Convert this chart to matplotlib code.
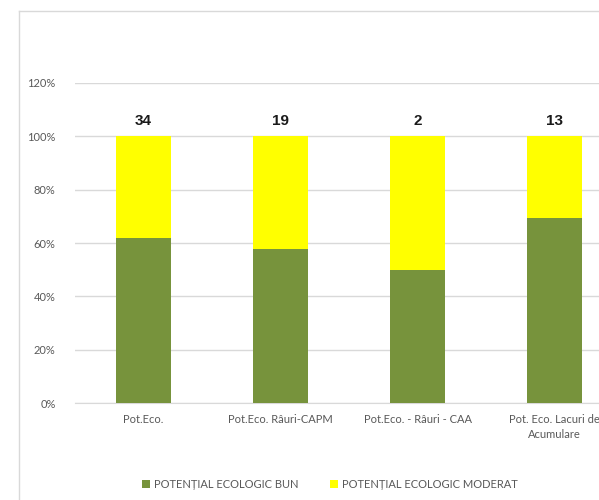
import numpy as np
import matplotlib.pyplot as plt
from matplotlib.lines import Line2D
from matplotlib.ticker import PercentFormatter

categories = ['Pot.Eco.', 'Pot.Eco. Râuri-CAPM', 'Pot.Eco. - Râuri - CAA',
              'Pot. Eco. Lacuri de\nAcumulare']
bun = np.array([21, 11, 1, 9])
moderat = np.array([13, 8, 1, 4])
total = bun + moderat

bun_pct = bun / total * 100
mod_pct = moderat / total * 100

plt.rcParams['font.family'] = ['Lato', 'DejaVu Sans']

fig = plt.figure(figsize=(5.99, 5.0), dpi=100)
# plot area runs past the right edge of the picture, as in the cropped original
ax = fig.add_axes([75 / 599, 97 / 500, 548 / 599, 320 / 500])

x = np.arange(len(categories))
w = 0.40
ax.bar(x, bun_pct, w, color='#77933C', label='POTENȚIAL ECOLOGIC BUN', zorder=3)
ax.bar(x, mod_pct, w, bottom=bun_pct, color='#FFFF00',
       label='POTENȚIAL ECOLOGIC MODERAT', zorder=3)

for xi, t in zip(x, total):
    ax.text(xi, 103, str(t), ha='center', va='bottom', fontsize=11,
            fontweight='bold', color='#1a1a1a', family='Liberation Sans')

ax.set_xlim(-0.5, len(categories) - 0.5)
ax.set_ylim(0, 120)
ax.set_yticks(np.arange(0, 121, 20))
ax.yaxis.set_major_formatter(PercentFormatter(decimals=0))
ax.set_xticks(x)
ax.set_xticklabels(categories, linespacing=1.45)
ax.grid(axis='y', color='#d9d9d9', linewidth=1, zorder=0)
for s in ['top', 'right', 'left']:
    ax.spines[s].set_visible(False)
ax.spines['bottom'].set_color('#d9d9d9')
ax.tick_params(axis='both', length=0, labelsize=8, labelcolor='#595959')
ax.tick_params(axis='x', pad=8)
ax.tick_params(axis='y', pad=14)

fig.legend(loc='center', bbox_to_anchor=(330 / 599, 1 - 484 / 500), ncol=2,
           frameon=False, fontsize=8, labelcolor='#595959', handlelength=0.7,
           handleheight=0.7, columnspacing=2.8, handletextpad=0.4)

# chart frame (cropped)
fig.add_artist(Line2D([19 / 599, 19 / 599], [0, 1 - 11 / 500], color='#d9d9d9', lw=1))
fig.add_artist(Line2D([19 / 599, 1], [1 - 11 / 500, 1 - 11 / 500], color='#d9d9d9', lw=1))

fig.savefig('out.png', dpi=100)
